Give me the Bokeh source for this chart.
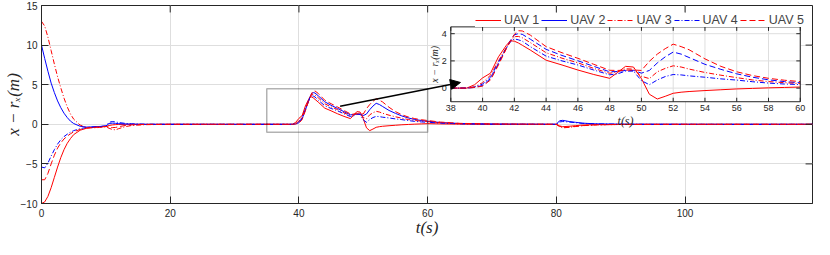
import math
from bokeh.plotting import figure
from bokeh.models import (ColumnDataSource, Range1d, FixedTicker, Legend,
                          LegendItem, BoxAnnotation, Arrow, NormalHead)
from bokeh.core.properties import value
from bokeh.embed import file_html
from bokeh.resources import INLINE

# ---------------- data ----------------
T = [0, 0.5, 1, 1.5, 2, 2.5, 3, 3.5, 4, 4.5, 5, 6, 7, 8, 9, 10, 10.5, 11, 11.5, 12, 13, 14, 16, 20, 30,
     38, 39, 39.5, 40, 40.5, 41, 41.5, 41.75, 42, 42.25, 42.5, 43, 44, 45, 46, 47, 48, 48.5, 49, 49.5, 50,
     50.5, 51, 51.5, 52, 52.5, 53, 54, 55, 56, 57, 58, 59, 60, 62, 65, 70, 80, 80.5, 81, 82, 83, 84, 86,
     90, 100, 119.8]

UAV1 = [-10, -9.8, -9.1, -8.0, -6.7, -5.4, -4.2, -3.2, -2.4, -1.8, -1.3, -0.75, -0.5, -0.4, -0.33, -0.28,
        -0.15, -0.08, -0.04, -0.02, 0, 0, 0, 0, 0,
        0, 0, 0.25, 0.75, 1.1, 2.3, 3.15, 3.48, 3.45, 3.32, 3.15, 2.8, 2.05, 1.7, 1.33, 1.0, 0.72, 1.15, 1.6,
        1.55, 0.7, -0.45, -0.8, -0.6, -0.38, -0.3, -0.25, -0.18, -0.12, -0.06, -0.02, 0.02, 0.05, 0.08,
        0.05, 0.02, 0, 0, -0.2, -0.3, -0.25, -0.17, -0.1, -0.04, 0, 0, 0]
UAV2 = [10, 8.3, 6.7, 5.2, 4.0, 2.95, 2.1, 1.4, 0.85, 0.4, 0.1, -0.25, -0.35, -0.33, -0.28, -0.22,
        0.1, 0.15, 0.12, 0.08, 0.04, 0.02, 0, 0, 0,
        0, 0, 0.05, 0.2, 0.7, 1.8, 2.95, 3.5, 3.92, 4.0, 3.95, 3.6, 2.85, 2.4, 2.01, 1.6, 1.2, 1.22, 1.3,
        1.3, 1.1, 1.3, 1.85, 2.3, 2.65, 2.5, 2.25, 1.75, 1.38, 1.05, 0.8, 0.61, 0.48, 0.39,
        0.22, 0.1, 0.03, 0, 0.45, 0.5, 0.35, 0.25, 0.15, 0.06, 0.01, 0, 0]
UAV3 = [13, 12.4, 11.0, 9.3, 7.6, 6.0, 4.6, 3.3, 2.2, 1.3, 0.65, -0.1, -0.4, -0.45, -0.4, -0.32,
        -0.5, -0.65, -0.7, -0.55, -0.3, -0.15, -0.05, 0, 0,
        0, 0, 0.1, 0.4, 0.95, 2.0, 3.0, 3.45, 3.78, 3.8, 3.7, 3.35, 2.6, 2.2, 1.86, 1.45, 1.09, 1.2, 1.42,
        1.4, 0.87, 0.7, 1.2, 1.45, 1.64, 1.55, 1.4, 1.15, 0.95, 0.77, 0.6, 0.48, 0.4, 0.33,
        0.2, 0.08, 0.02, 0, -0.3, -0.45, -0.38, -0.28, -0.18, -0.08, -0.02, 0, 0]
UAV4 = [-5.4, -5.5, -4.9, -4.0, -3.2, -2.5, -1.95, -1.55, -1.25, -1.0, -0.8, -0.55, -0.4, -0.32, -0.27, -0.2,
        0.25, 0.35, 0.3, 0.22, 0.12, 0.06, 0.02, 0, 0,
        0, 0, 0.08, 0.3, 0.8, 1.9, 2.95, 3.4, 3.62, 3.55, 3.45, 3.05, 2.35, 2.0, 1.7, 1.33, 0.98, 1.05, 1.25,
        1.25, 0.55, 0.25, 0.6, 0.85, 1.0, 0.97, 0.9, 0.8, 0.68, 0.59, 0.47, 0.37, 0.3, 0.26,
        0.15, 0.06, 0.02, 0, 0.3, 0.35, 0.28, 0.2, 0.12, 0.05, 0.01, 0, 0]
UAV5 = [-7.0, -7.0, -6.2, -5.0, -3.9, -3.0, -2.35, -1.85, -1.5, -1.2, -0.95, -0.65, -0.48, -0.4, -0.33, -0.27,
        -0.35, -0.42, -0.4, -0.3, -0.15, -0.07, -0.02, 0, 0,
        0, 0, 0.05, 0.15, 0.6, 1.7, 2.9, 3.45, 3.95, 4.22, 4.2, 3.9, 3.05, 2.6, 2.19, 1.75, 1.31, 1.3, 1.32,
        1.33, 1.3, 1.97, 2.5, 2.9, 3.23, 3.05, 2.82, 2.15, 1.6, 1.2, 0.92, 0.72, 0.58, 0.48,
        0.28, 0.12, 0.04, 0, -0.25, -0.38, -0.35, -0.26, -0.17, -0.07, -0.02, 0, 0]

LABELS = ["UAV 1", "UAV 2", "UAV 3", "UAV 4", "UAV 5"]
X_TICKS = [0, 20, 40, 60, 80, 100]
Y_TICKS = [-10, -5, 0, 5, 10, 15]
INSET_X_TICKS = [38, 40, 42, 44, 46, 48, 50, 52, 54, 56, 58, 60]
INSET_Y_TICKS = [0, 2, 4]

X_RANGE = (0, 119.8)
Y_RANGE = (-10, 15)
ZOOM_X = (35, 60)
ZOOM_Y = (-1, 4.5)
INSET_X_RANGE = (38, 60)
INSET_Y_RANGE = (-1, 4.5)

# ---------------- layout / style ----------------
INSET_BOX = dict(left=63.6, right=117.9, bottom=2.85, top=12.3)   # inset frame, in main data coords
ARROW_START = (46.4, 2.27)
ARROW_END = (65.1, 5.28)

COLORS = ["#ff0000", "#0000ff", "#ff0000", "#0000ff", "#ff0000"]
MAIN_DASH = ["solid", "solid", "5 2 1 2", "5 2 1 2", "6 3"]
INSET_DASH = ["solid", "6 3", "5 2 1 2", "5 2 1 2", "6 3"]
AX = "#262626"
GRID = "#dedede"
SANS = "Liberation Sans"
SERIF = "Liberation Serif"

W, H = 814, 239
BL, BR, BT, BB = 34, 2, 5, 35
FW, FH = W - BL - BR, H - BT - BB
MAIN_TICK_PX, INSET_TICK_PX = 7, 4

src = ColumnDataSource(dict(t=T, u1=UAV1, u2=UAV2, u3=UAV3, u4=UAV4, u5=UAV5))
KEYS = ["u1", "u2", "u3", "u4", "u5"]
i0, i1 = T.index(INSET_X_RANGE[0]), T.index(INSET_X_RANGE[1])
src_in = ColumnDataSource({k: v[i0:i1 + 1] for k, v in
                           dict(t=T, u1=UAV1, u2=UAV2, u3=UAV3, u4=UAV4, u5=UAV5).items()})


def style_axis(ax, size, tick_len, standoff):
    ax.axis_line_color = AX
    ax.major_tick_line_color = AX
    ax.major_tick_in = tick_len
    ax.major_tick_out = 0
    ax.minor_tick_line_color = None
    ax.major_label_text_font = SANS
    ax.major_label_text_font_size = size
    ax.major_label_text_color = AX
    ax.major_label_standoff = standoff


# ---------------- main figure ----------------
p = figure(width=W, height=H, x_range=Range1d(*X_RANGE), y_range=Range1d(*Y_RANGE),
           output_backend="svg", toolbar_location=None,
           min_border_left=BL, min_border_right=BR, min_border_top=BT, min_border_bottom=BB,
           background_fill_color="white", border_fill_color="white")
p.outline_line_color = AX
p.xaxis.ticker = FixedTicker(ticks=X_TICKS)
p.yaxis.ticker = FixedTicker(ticks=Y_TICKS)
style_axis(p.xaxis[0], "10px", MAIN_TICK_PX, 5)
style_axis(p.yaxis[0], "10px", MAIN_TICK_PX, 4)
p.xaxis.axis_label = "t(s)"
p.yaxis.axis_label = "x \u2212 r\u2093(m)"
for ax, st in ((p.xaxis[0], -2), (p.yaxis[0], -5)):
    ax.axis_label_text_font = SERIF
    ax.axis_label_text_font_style = "italic"
    ax.axis_label_text_font_size = "17px"
    ax.axis_label_text_color = AX
    ax.axis_label_standoff = st
p.xgrid.ticker = FixedTicker(ticks=X_TICKS)
p.ygrid.ticker = FixedTicker(ticks=Y_TICKS)
for g in (p.xgrid, p.ygrid):
    g.grid_line_color = GRID

main_renderers = []
for k, c, d in zip(KEYS, COLORS, MAIN_DASH):
    main_renderers.append(p.line("t", k, source=src, line_color=c, line_dash=d, line_width=1))

# inward ticks on the top and right edges of the main box
tx = MAIN_TICK_PX * (X_RANGE[1] - X_RANGE[0]) / FW
ty = MAIN_TICK_PX * (Y_RANGE[1] - Y_RANGE[0]) / FH
p.segment(x0=[X_RANGE[1] - tx] * len(Y_TICKS), x1=[X_RANGE[1]] * len(Y_TICKS), y0=Y_TICKS, y1=Y_TICKS,
          line_color=AX, line_width=1)
p.segment(x0=X_TICKS, x1=X_TICKS, y0=[Y_RANGE[1] - ty] * len(X_TICKS), y1=[Y_RANGE[1]] * len(X_TICKS),
          line_color=AX, line_width=1)

# ---------------- inset (sub-coordinates of the main figure) ----------------
sub = p.subplot(x_source=Range1d(*INSET_X_RANGE), y_source=Range1d(*INSET_Y_RANGE),
                x_target=Range1d(INSET_BOX["left"], INSET_BOX["right"]),
                y_target=Range1d(INSET_BOX["bottom"], INSET_BOX["top"]))
ix0, ix1 = INSET_X_RANGE
iy0, iy1 = INSET_Y_RANGE
sub.quad(left=[ix0], right=[ix1], bottom=[iy0], top=[iy1], fill_color="white", line_color=None)
sub.segment(x0=INSET_X_TICKS, x1=INSET_X_TICKS, y0=[iy0] * len(INSET_X_TICKS), y1=[iy1] * len(INSET_X_TICKS),
            line_color=GRID, line_width=1)
sub.segment(x0=[ix0] * len(INSET_Y_TICKS), x1=[ix1] * len(INSET_Y_TICKS), y0=INSET_Y_TICKS, y1=INSET_Y_TICKS,
            line_color=GRID, line_width=1)
for k, c, d in zip(KEYS, COLORS, INSET_DASH):
    sub.line("t", k, source=src_in, line_color=c, line_dash=d, line_width=1)

inset_w_px = FW * (INSET_BOX["right"] - INSET_BOX["left"]) / (X_RANGE[1] - X_RANGE[0])
inset_h_px = FH * (INSET_BOX["top"] - INSET_BOX["bottom"]) / (Y_RANGE[1] - Y_RANGE[0])
itx = INSET_TICK_PX * (ix1 - ix0) / inset_w_px
ity = INSET_TICK_PX * (iy1 - iy0) / inset_h_px
nx, ny = len(INSET_X_TICKS), len(INSET_Y_TICKS)
sub.segment(x0=INSET_X_TICKS, x1=INSET_X_TICKS, y0=[iy0] * nx, y1=[iy0 + ity] * nx, line_color=AX)
sub.segment(x0=INSET_X_TICKS, x1=INSET_X_TICKS, y0=[iy1 - ity] * nx, y1=[iy1] * nx, line_color=AX)
sub.segment(x0=[ix0] * ny, x1=[ix0 + itx] * ny, y0=INSET_Y_TICKS, y1=INSET_Y_TICKS, line_color=AX)
sub.segment(x0=[ix1 - itx] * ny, x1=[ix1] * ny, y0=INSET_Y_TICKS, y1=INSET_Y_TICKS, line_color=AX)
sub.quad(left=[ix0], right=[ix1], bottom=[iy0], top=[iy1], fill_color=None, line_color=AX, line_width=1)

sub.text(x=INSET_X_TICKS, y=[iy0] * nx, text=[str(v) for v in INSET_X_TICKS], y_offset=3,
         text_align="center", text_baseline="top", text_font=value(SANS),
         text_font_size="9px", text_color=AX)
sub.text(x=[ix0] * ny, y=INSET_Y_TICKS, text=[str(v) for v in INSET_Y_TICKS], x_offset=-4,
         text_align="right", text_baseline="middle", text_font=value(SANS),
         text_font_size="9px", text_color=AX)
sub.text(x=[(ix0 + ix1) / 2], y=[iy0], text=["t(s)"], y_offset=12,
         text_align="center", text_baseline="top", text_font=value(SERIF), text_font_style="italic",
         text_font_size="12px", text_color=AX)
sub.text(x=[ix0], y=[(iy0 + iy1) / 2], text=["x \u2212 r\u2093(m)"], x_offset=-11, angle=math.pi / 2,
         text_align="center", text_baseline="bottom", text_font=value(SERIF), text_font_style="italic",
         text_font_size="10px", text_color=AX)

# ---------------- annotations ----------------
p.add_layout(BoxAnnotation(left=ZOOM_X[0], right=ZOOM_X[1], bottom=ZOOM_Y[0], top=ZOOM_Y[1],
                           fill_color=None, line_color="black", line_width=1.5))
p.add_layout(Arrow(end=NormalHead(size=10, fill_color="black", line_color="black"),
                   x_start=ARROW_START[0], y_start=ARROW_START[1],
                   x_end=ARROW_END[0], y_end=ARROW_END[1], line_color="black", line_width=1.5))

legend = Legend(items=[LegendItem(label=l, renderers=[r]) for l, r in zip(LABELS, main_renderers)],
                orientation="horizontal", location="top_right",
                background_fill_color="white", background_fill_alpha=1.0,
                border_line_color=None, padding=0, margin=8, spacing=2,
                glyph_width=26, glyph_height=12, label_height=12, label_standoff=3,
                label_text_font=SANS, label_text_font_size="12.5px")
p.add_layout(legend)

open("out.html", "w").write(file_html(p, INLINE))
